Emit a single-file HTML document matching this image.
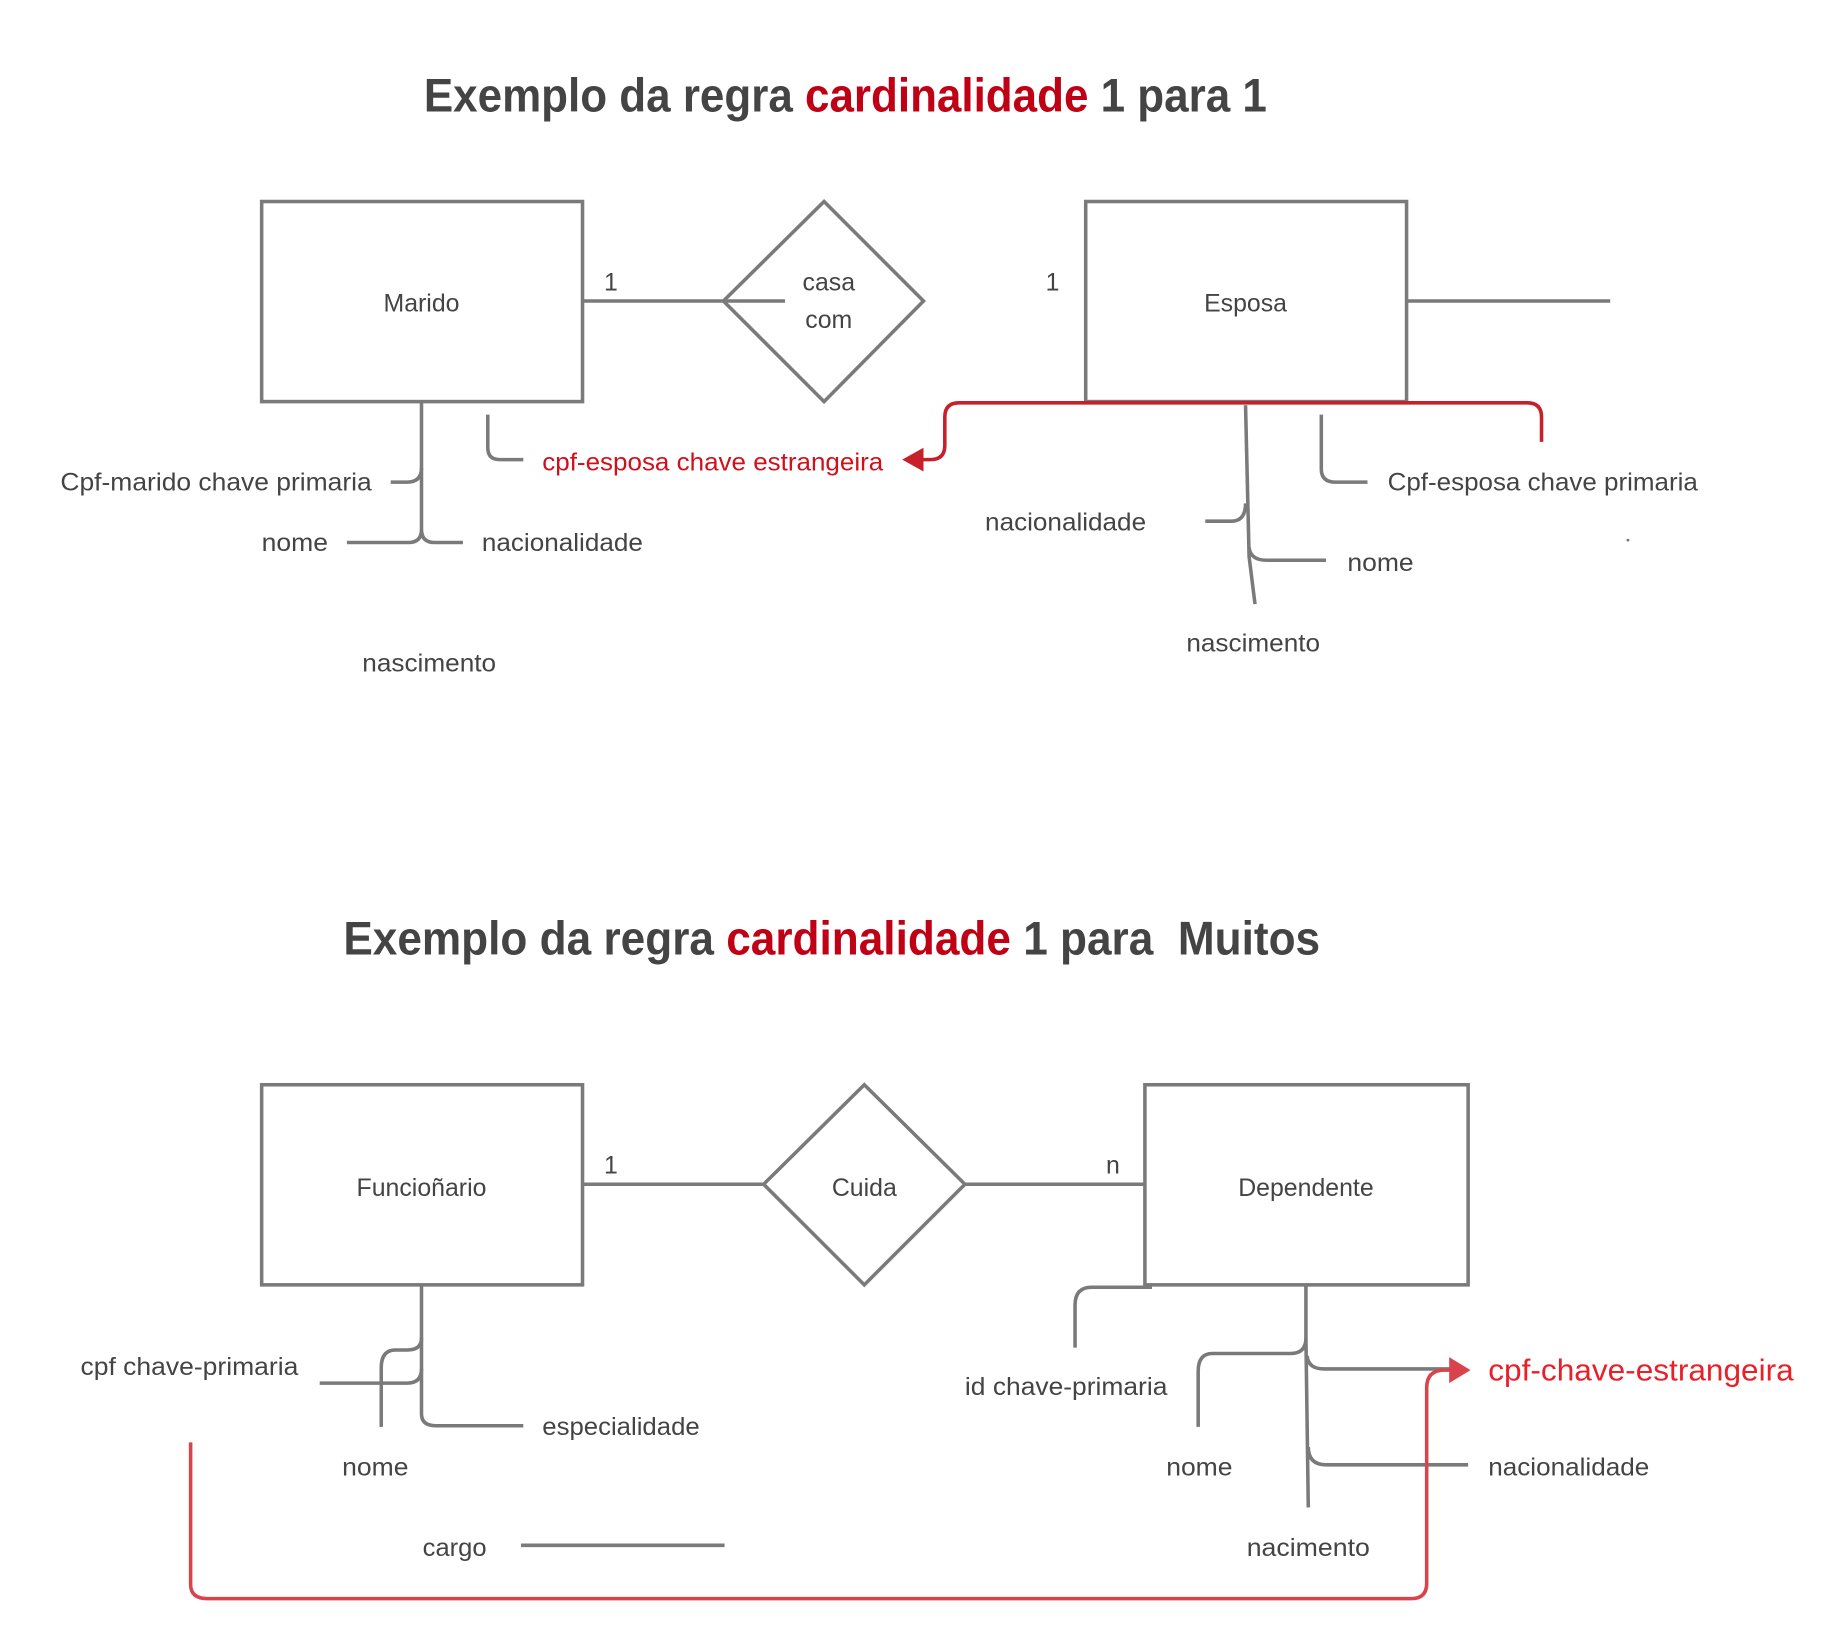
<!DOCTYPE html>
<html><head><meta charset="utf-8"><style>html,body{margin:0;padding:0;background:#fff}svg{display:block}</style></head>
<body>
<svg width="1847" height="1632" viewBox="0 0 1560 1378" xmlns="http://www.w3.org/2000/svg" font-family="Liberation Sans, sans-serif">
<rect width="1560" height="1378" fill="#fff"/>
<g font-weight="bold" font-size="40" fill="#444">
<text x="358" y="94" textLength="712" lengthAdjust="spacingAndGlyphs">Exemplo da regra <tspan fill="#c00014">cardinalidade</tspan> 1 para 1</text>
<text x="290" y="806" textLength="825" lengthAdjust="spacingAndGlyphs">Exemplo da regra <tspan fill="#c00014">cardinalidade</tspan> 1 para&#160; Muitos</text>
</g>
<g fill="none" stroke="#7a7a7a" stroke-width="3">
<rect x="221" y="170" width="271" height="169"/>
<rect x="917" y="170" width="271" height="169"/>
<line x1="492" y1="254" x2="611" y2="254"/>
<polygon points="696,170 780,254 696,339 611,254"/>
<line x1="611" y1="254" x2="663" y2="254"/>
<line x1="1188" y1="254" x2="1360" y2="254"/>
<path d="M356,340 V447 Q356,458 345,458 H293 M356,447 Q356,458 367,458 H391"/>
<path d="M356,395 Q356,407 344,407 H330"/>
<path d="M412,350 V378 Q412,388 422,388 H442"/>
<path d="M1052,342 L1055,470 L1060,510"/>
<path d="M1052,425 Q1052,440 1040,440 H1018"/>
<path d="M1055,462 Q1056,473 1070,473 H1120"/>
<path d="M1116,350 V396 Q1116,407 1128,407 H1155"/>
<rect x="221" y="916" width="271" height="169"/>
<rect x="967" y="916" width="273" height="169"/>
<line x1="492" y1="1000" x2="645" y2="1000"/>
<polygon points="730,916 815,1000 730,1085 645,1000"/>
<line x1="815" y1="1000" x2="967" y2="1000"/>
<path d="M356,1086 V1194 Q356,1204 368,1204 H442"/>
<path d="M356,1130 Q356,1140 344,1140 H334 Q322,1140 322,1155 V1205"/>
<path d="M356,1156 Q356,1168 344,1168 H270"/>
<line x1="440" y1="1305" x2="612" y2="1305"/>
<path d="M1103,1086 V1130 Q1103,1143 1090,1143 H1024 Q1012,1143 1012,1158 V1205"/>
<path d="M1103,1130 L1105,1273"/>
<path d="M1104,1145 Q1105,1156 1118,1156 H1225"/>
<path d="M1105,1222 Q1105,1237 1120,1237 H1240"/>
<path d="M973,1087 H922 Q908,1087 908,1102 V1138"/>
</g>
<g fill="none" stroke="#c8202a" stroke-width="3">
<path d="M1302,373 V352 Q1302,340 1290,340 H810 Q798,340 798,352 V376 Q798,388 786,388 H778"/>
</g>
<polygon points="762,388 780,378 780,398" fill="#c8202a"/>
<g fill="none" stroke="#d9434c" stroke-width="3">
<path d="M161,1218 V1338 Q161,1350 175,1350 H1192 Q1205,1350 1205,1337 V1172 Q1205,1157 1220,1157 H1226"/>
</g>
<polygon points="1242,1157 1224,1146 1224,1168" fill="#d9434c"/>
<circle cx="1375" cy="456" r="1.2" fill="#777"/>
<g font-size="21" fill="#444">
<text x="356" y="263" text-anchor="middle">Marido</text>
<text x="516" y="245" text-anchor="middle">1</text>
<text x="700" y="245" text-anchor="middle">casa</text>
<text x="700" y="277" text-anchor="middle">com</text>
<text x="889" y="245" text-anchor="middle">1</text>
<text x="1052" y="263" text-anchor="middle">Esposa</text>
<text x="51" y="414" textLength="263" lengthAdjust="spacingAndGlyphs">Cpf-marido chave primaria</text>
<text x="221" y="465" textLength="56" lengthAdjust="spacingAndGlyphs">nome</text>
<text x="407" y="465" textLength="136" lengthAdjust="spacingAndGlyphs">nacionalidade</text>
<text x="306" y="567" textLength="113" lengthAdjust="spacingAndGlyphs">nascimento</text>
<text x="832" y="448" textLength="136" lengthAdjust="spacingAndGlyphs">nacionalidade</text>
<text x="1172" y="414" textLength="262" lengthAdjust="spacingAndGlyphs">Cpf-esposa chave primaria</text>
<text x="1138" y="482" textLength="56" lengthAdjust="spacingAndGlyphs">nome</text>
<text x="1002" y="550" textLength="113" lengthAdjust="spacingAndGlyphs">nascimento</text>
<text x="458" y="397" fill="#d0101a" textLength="288" lengthAdjust="spacingAndGlyphs">cpf-esposa chave estrangeira</text>
<text x="356" y="1010" text-anchor="middle">Funcioñario</text>
<text x="516" y="991" text-anchor="middle">1</text>
<text x="730" y="1010" text-anchor="middle">Cuida</text>
<text x="940" y="991" text-anchor="middle">n</text>
<text x="1103" y="1010" text-anchor="middle">Dependente</text>
<text x="68" y="1161" textLength="184" lengthAdjust="spacingAndGlyphs">cpf chave-primaria</text>
<text x="458" y="1212" textLength="133" lengthAdjust="spacingAndGlyphs">especialidade</text>
<text x="289" y="1246" textLength="56" lengthAdjust="spacingAndGlyphs">nome</text>
<text x="357" y="1314" textLength="54" lengthAdjust="spacingAndGlyphs">cargo</text>
<text x="815" y="1178" textLength="171" lengthAdjust="spacingAndGlyphs">id chave-primaria</text>
<text x="985" y="1246" textLength="56" lengthAdjust="spacingAndGlyphs">nome</text>
<text x="1053" y="1314" textLength="104" lengthAdjust="spacingAndGlyphs">nacimento</text>
<text x="1257" y="1246" textLength="136" lengthAdjust="spacingAndGlyphs">nacionalidade</text>
<text x="1257" y="1166" font-size="26" fill="#e8202a" textLength="258" lengthAdjust="spacingAndGlyphs">cpf-chave-estrangeira</text>
</g>
</svg>
</body></html>
